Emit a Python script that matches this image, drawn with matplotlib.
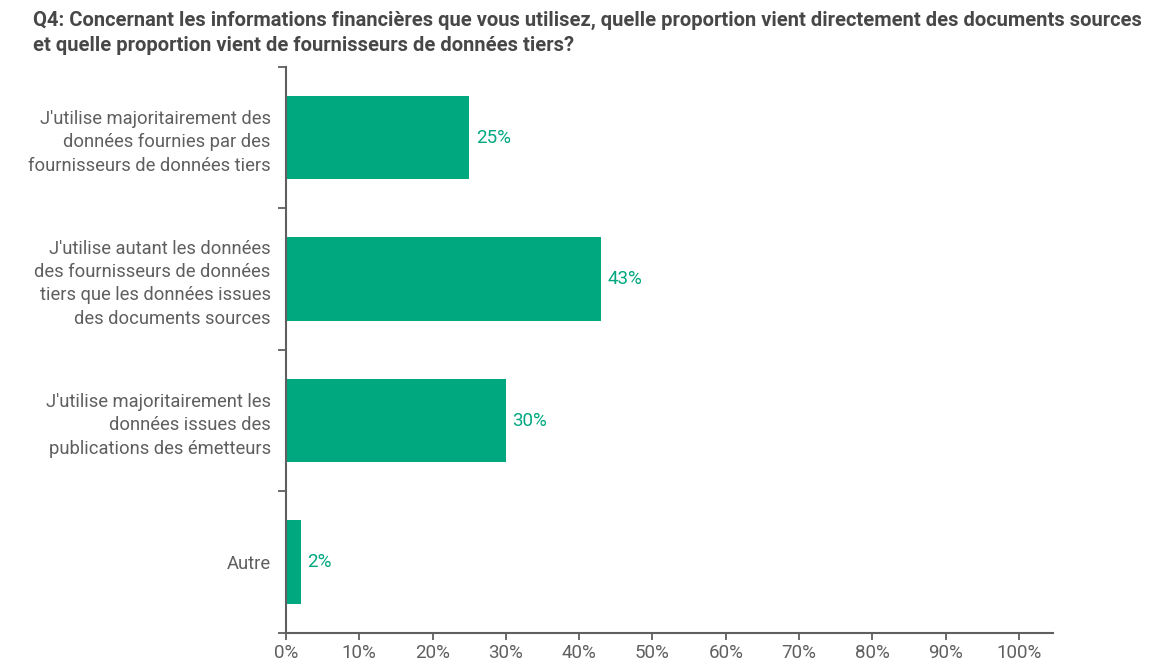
import matplotlib.pyplot as plt
import numpy as np

plt.rcParams['font.family'] = ['Roboto', 'DejaVu Sans']

categories = [
    "J'utilise majoritairement des\ndonnées fournies par des\nfournisseurs de données tiers",
    "J'utilise autant les données\ndes fournisseurs de données\ntiers que les données issues\ndes documents sources",
    "J'utilise majoritairement les\ndonnées issues des\npublications des émetteurs",
    "Autre",
]
values = [25, 43, 30, 2]
xticks = [0, 10, 20, 30, 40, 50, 60, 70, 80, 90, 100]
title = ("Q4: Concernant les informations financières que vous utilisez, quelle proportion vient directement des documents sources\n"
         "et quelle proportion vient de fournisseurs de données tiers?")

green = '#00a880'
grey = '#5f5f5f'

fig = plt.figure(figsize=(11.53, 6.63), dpi=100)
ax = fig.add_axes([0.248, 0.0452, 0.665, 0.854])

y = np.arange(len(categories))
ax.barh(y, values, height=0.59, color=green)
for yi, v in zip(y, values):
    ax.text(v + 0.9, yi, f"{v}%", va='center', ha='left', color=green, fontsize=13.5)

ax.set_ylim(len(categories) - 0.5, -0.5)
ax.set_xlim(0, 104.6)

# boundary ticks on y, labels centred on bars
ax.set_yticks(np.arange(-0.5, len(categories), 1.0))
ax.set_yticklabels([])
ax.set_yticks(y, minor=True)
ax.set_yticklabels(categories, minor=True, fontsize=13.2, color=grey, linespacing=1.38)
ax.tick_params(axis='y', which='minor', length=0, pad=11)
ax.tick_params(axis='y', which='major', length=6, width=1.3, color=grey)

ax.set_xticks(xticks)
ax.set_xticklabels([f"{t}%" for t in xticks], fontsize=13.5, color=grey)
ax.tick_params(axis='x', length=5, width=1.3, color=grey, pad=3)

for s in ['top', 'right']:
    ax.spines[s].set_visible(False)
for s in ['left', 'bottom']:
    ax.spines[s].set_color(grey)
    ax.spines[s].set_linewidth(1.5)

fig.text(0.029, 0.984, title, ha='left', va='top', fontsize=14.5, fontweight='bold',
         color='#474747', linespacing=1.45)

fig.savefig('out.png', dpi=100)
